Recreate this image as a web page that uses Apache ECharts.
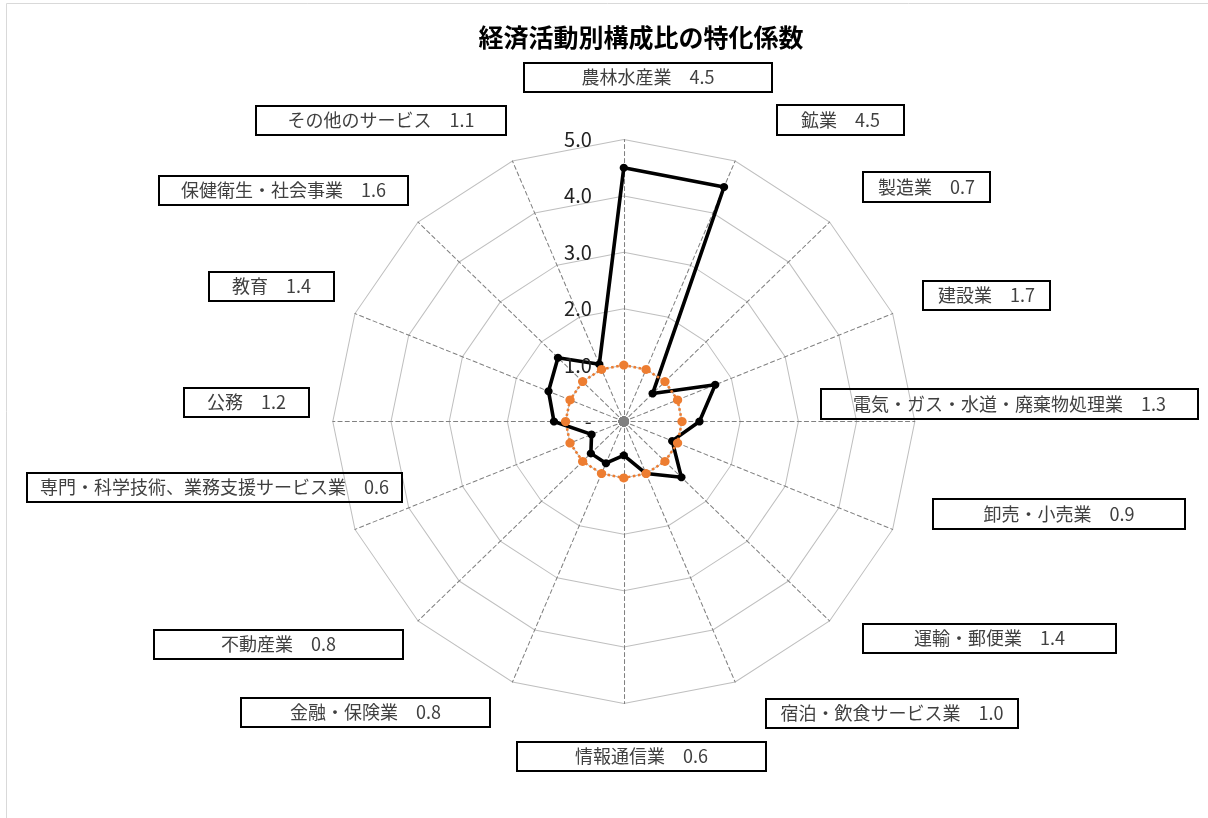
<!DOCTYPE html>
<html>
<head>
<meta charset="utf-8">
<script src="https://cdn.jsdelivr.net/npm/echarts@6/dist/echarts.min.js"></script>
<style>
html,body{margin:0;padding:0;background:#fff;overflow:hidden;}
#wrap{position:relative;width:1208px;height:818px;}
#radar,#overlay{position:absolute;left:0;top:0;width:1208px;height:818px;}
#radar{transform:scaleX(1.0319);transform-origin:623.8px 421.5px;}
</style>
</head>
<body>
<div id="wrap">
  <div id="radar"></div>
  <div id="overlay"></div>
</div>
<script>
// ---- data (clockwise from top) ----
var categories = ['農林水産業','鉱業','製造業','建設業','電気・ガス・水道・廃棄物処理業','卸売・小売業','運輸・郵便業','宿泊・飲食サービス業','情報通信業','金融・保険業','不動産業','専門・科学技術、業務支援サービス業','公務','教育','保健衛生・社会事業','その他のサービス'];
var coefficients = [4.5,4.5,0.7,1.7,1.3,0.9,1.4,1.0,0.6,0.8,0.8,0.6,1.2,1.4,1.6,1.1];
var baseline = [1,1,1,1,1,1,1,1,1,1,1,1,1,1,1,1];
var zeroLine = [0,0,0,0,0,0,0,0,0,0,0,0,0,0,0,0];
var axisTicks = [0,1,2,3,4,5];

// ---- layout (label boxes: x, y, w, h) ----
var labelBoxes = [
  [524,63,248,29],[777,105,127,30],[863,172,127,30],[923,281,127,29],
  [821,389,377,30],[933,499,252,30],[863,624,253,29],[766,699,252,29],
  [517,742,249,29],[241,698,249,29],[154,630,249,29],[27,473,375,29],
  [184,388,125,29],[209,272,125,29],[159,176,249,29],[256,106,250,29]
];
var CX = 623.8, CY = 421.5, R = 282;
var FONT = '"Noto Sans CJK JP", "Noto Sans", sans-serif';

// ECharts radar runs counterclockwise: reorder so the chart reads clockwise
var order = [0];
for (var i = categories.length - 1; i >= 1; i--) order.push(i);
function reorder(arr){ return order.map(function(k){ return arr[k]; }); }

var indicators = reorder(categories).map(function(n){ return {name: n, min: axisTicks[0], max: axisTicks[axisTicks.length-1]}; });

var radarChart = echarts.init(document.getElementById('radar'), null, {renderer: 'svg'});
radarChart.setOption({
  animation: false,
  radar: {
    center: [CX, CY], radius: R, startAngle: 90, shape: 'polygon', splitNumber: axisTicks.length - 1,
    indicator: indicators,
    axisName: {show: false},
    splitArea: {show: false},
    splitLine: {lineStyle: {color: '#bfbfbf', width: 1}},
    axisLine: {lineStyle: {color: '#808080', width: 1, type: [4, 3]}},
    axisLabel: {show: false}
  },
  series: [{
    type: 'radar',
    data: [{
      value: reorder(coefficients), name: '特化係数',
      symbol: 'circle', symbolSize: 8,
      lineStyle: {color: '#000', width: 3.5},
      itemStyle: {color: '#000'}
    }, {
      value: reorder(baseline), name: '基準',
      symbol: 'circle', symbolSize: 9,
      lineStyle: {color: '#ED7D31', width: 2.5, type: 'dotted'},
      itemStyle: {color: '#ED7D31'}
    }, {
      value: reorder(zeroLine), name: '0',
      symbol: 'circle', symbolSize: 10,
      lineStyle: {color: '#808080', width: 1},
      itemStyle: {color: '#808080'}
    }]
  }]
});

var graphics = [{
  type: 'rect', shape: {x: 6.5, y: 3.5, width: 1210, height: 820},
  style: {fill: 'none', stroke: '#d9d9d9', lineWidth: 1}, silent: true
}];
categories.forEach(function(c, i){
  var b = labelBoxes[i];
  graphics.push({
    type: 'group', children: [
      {type: 'rect', shape: {x: b[0], y: b[1], width: b[2], height: b[3]},
       style: {fill: 'none', stroke: '#000', lineWidth: 2}},
      {type: 'text', x: b[0] + b[2]/2, y: b[1] + b[3]/2,
       style: {text: c + '\u3000' + coefficients[i].toFixed(1), fill: '#404040',
               font: '18px ' + FONT, textAlign: 'center', textVerticalAlign: 'middle'}}
    ]
  });
});

var overlay = echarts.init(document.getElementById('overlay'));
overlay.setOption({
  animation: false,
  backgroundColor: 'transparent',
  title: {
    text: '経済活動別構成比の特化係数', left: 636, top: 20, textAlign: 'center',
    textStyle: {fontFamily: FONT, fontSize: 25, fontWeight: 'bold', color: '#000'}
  },
  polar: {center: [CX, CY], radius: R},
  angleAxis: {show: false, type: 'value', min: 0, max: 360},
  radiusAxis: {
    type: 'value', min: axisTicks[0], max: axisTicks[axisTicks.length-1], interval: 1,
    axisLine: {show: false}, axisTick: {show: false}, splitLine: {show: false},
    axisLabel: {
      show: true, margin: 32, color: '#222', fontSize: 20, fontFamily: FONT,
      formatter: function(v){ return v === 0 ? '-' : v.toFixed(1); }
    }
  },
  graphic: graphics
});
</script>
</body>
</html>
